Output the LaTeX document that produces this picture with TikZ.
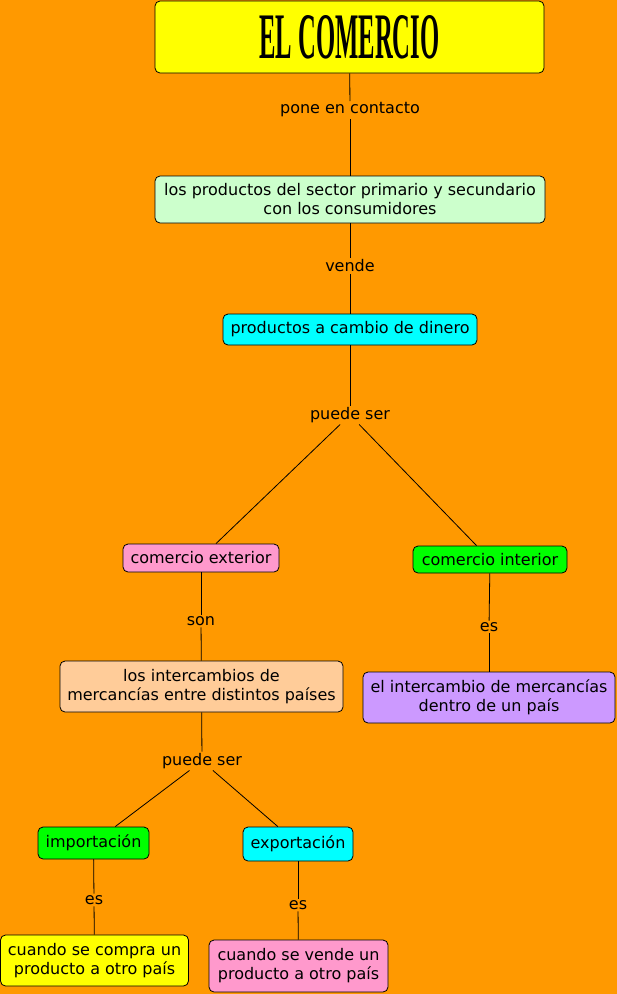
\documentclass[tikz,border=0pt]{standalone}
\usepackage{fontspec}
\setmainfont{DejaVu Sans}
\newfontfamily\titlefont{Liberation Serif}
\definecolor{bgor}{HTML}{FF9900}
\definecolor{cyel}{HTML}{FFFF00}
\definecolor{clgreen}{HTML}{CCFFCC}
\definecolor{ccyan}{HTML}{00FFFF}
\definecolor{cpink}{HTML}{FF99CC}
\definecolor{cgreen}{HTML}{00FF00}
\definecolor{cpeach}{HTML}{FFCC99}
\definecolor{clav}{HTML}{CC99FF}
\begin{document}
\begin{tikzpicture}[x=1pt,y=-1pt,
  box/.style={draw=black, line width=0.8pt, rounded corners=5pt, align=center, inner sep=0pt,
    font=\fontsize{16}{19}\selectfont},
  lbl/.style={fill=bgor, inner sep=1.5pt, font=\fontsize{16}{19}\selectfont},
  con/.style={draw=black, line width=0.8pt}]
\fill[bgor] (0,0) rectangle (617,994);
\useasboundingbox (0,0) rectangle (617,994);
% boxes
\node[box, fill=cyel, minimum width=389pt, minimum height=72pt] (t) at (349.5,37)
  {\titlefont\bfseries\resizebox{180pt}{43pt}{EL COMERCIO}};
\node[box, fill=clgreen, minimum width=390pt, minimum height=47pt] (b2) at (350,199.5)
  {los productos del sector primario y secundario\\con los consumidores};
\node[box, fill=ccyan, minimum width=254pt, minimum height=31pt] (b3) at (350,329.5)
  {productos a cambio de dinero};
\node[box, fill=cpink, minimum width=156pt, minimum height=28pt] (ce) at (201,558)
  {comercio exterior};
\node[box, fill=cgreen, minimum width=154pt, minimum height=27pt] (ci) at (490,559.5)
  {comercio interior};
\node[box, fill=cpeach, minimum width=283pt, minimum height=51pt] (b6) at (201.5,686.5)
  {los intercambios de\\mercancías entre distintos países};
\node[box, fill=clav, minimum width=252pt, minimum height=51pt] (b7) at (489,697.5)
  {el intercambio de mercancías\\dentro de un país};
\node[box, fill=cgreen, minimum width=111pt, minimum height=32pt] (imp) at (93.5,843)
  {importación};
\node[box, fill=ccyan, minimum width=110pt, minimum height=34pt] (exp) at (298,844)
  {exportación};
\node[box, fill=cyel, minimum width=188pt, minimum height=51pt] (c1) at (94.5,960.5)
  {cuando se compra un\\producto a otro país};
\node[box, fill=cpink, minimum width=179pt, minimum height=52pt] (c2) at (298.5,966)
  {cuando se vende un\\producto a otro país};
% labels
\node[lbl] (l1) at (350,110) {pone en contacto};
\node[lbl] (l2) at (350,266) {vende};
\node[lbl] (l3) at (350,415) {puede ser};
\node[lbl] (l4) at (201,621) {son};
\node[lbl] (l5) at (489,627) {es};
\node[lbl] (l6) at (202,761) {puede ser};
\node[lbl] (l7) at (94,900) {es};
\node[lbl] (l8) at (298,905) {es};
% connectors
\draw[con] (t) -- (l1);
\draw[con] (l1) -- (b2);
\draw[con] (b2) -- (l2);
\draw[con] (l2) -- (b3);
\draw[con] (b3) -- (l3);
\draw[con] (l3) -- (ce);
\draw[con] (l3) -- (ci);
\draw[con] (ce) -- (l4);
\draw[con] (l4) -- (b6);
\draw[con] (ci) -- (l5);
\draw[con] (l5) -- (b7);
\draw[con] (b6) -- (l6);
\draw[con] (l6) -- (imp);
\draw[con] (l6) -- (exp);
\draw[con] (imp) -- (l7);
\draw[con] (l7) -- (c1);
\draw[con] (exp) -- (l8);
\draw[con] (l8) -- (c2);
\end{tikzpicture}
\end{document}
